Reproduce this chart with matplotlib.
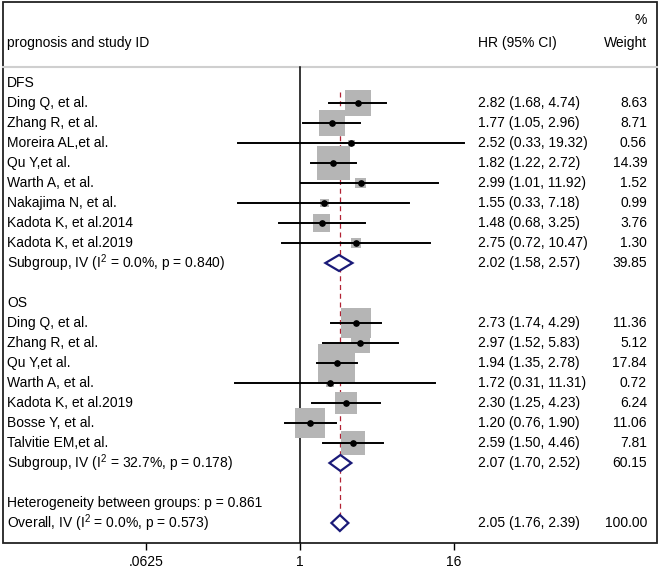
import matplotlib
matplotlib.use('Agg')
import matplotlib.pyplot as plt
from matplotlib.patches import Polygon, Rectangle
import numpy as np

plt.rcParams['font.family'] = ['Liberation Sans', 'DejaVu Sans']
plt.rcParams['mathtext.fontset'] = 'custom'
plt.rcParams['mathtext.rm'] = 'Liberation Sans'
plt.rcParams['mathtext.default'] = 'regular'

# DFS studies
dfs_studies = ['Ding Q, et al.', 'Zhang R, et al.', 'Moreira AL,et al.', 'Qu Y,et al.',
               'Warth A, et al.', 'Nakajima N, et al.', 'Kadota K, et al.2014',
               'Kadota K, et al.2019']
dfs_hr = [2.82, 1.77, 2.52, 1.82, 2.99, 1.55, 1.48, 2.75]
dfs_lo = [1.68, 1.05, 0.33, 1.22, 1.01, 0.33, 0.68, 0.72]
dfs_hi = [4.74, 2.96, 19.32, 2.72, 11.92, 7.18, 3.25, 10.47]
dfs_w = [8.63, 8.71, 0.56, 14.39, 1.52, 0.99, 3.76, 1.30]
dfs_sub = (2.02, 1.58, 2.57, 39.85)
dfs_sub_label = 'Subgroup, IV (I$^2$ = 0.0%, p = 0.840)'

# OS studies
os_studies = ['Ding Q, et al.', 'Zhang R, et al.', 'Qu Y,et al.', 'Warth A, et al.',
              'Kadota K, et al.2019', 'Bosse Y, et al.', 'Talvitie EM,et al.']
os_hr = [2.73, 2.97, 1.94, 1.72, 2.30, 1.20, 2.59]
os_lo = [1.74, 1.52, 1.35, 0.31, 1.25, 0.76, 1.50]
os_hi = [4.29, 5.83, 2.78, 11.31, 4.23, 1.90, 4.46]
os_w = [11.36, 5.12, 17.84, 0.72, 6.24, 11.06, 7.81]
os_sub = (2.07, 1.70, 2.52, 60.15)
os_sub_label = 'Subgroup, IV (I$^2$ = 32.7%, p = 0.178)'

het_label = 'Heterogeneity between groups: p = 0.861'
overall = (2.05, 1.76, 2.39, 100.00)
overall_label = 'Overall, IV (I$^2$ = 0.0%, p = 0.573)'

tick_vals = [0.0625, 1, 16]
tick_labels = ['.0625', '1', '16']

W, H = 660, 571
fig = plt.figure(figsize=(W / 100, H / 100), dpi=100)

# background axes in pixel coordinates
bg = fig.add_axes([0, 0, 1, 1])
bg.set_xlim(0, W)
bg.set_ylim(H, 0)
bg.axis('off')

# forest axes: x = 1 at 300 px, 38.5 px per doubling
x0_px, x1_px = 120, 480
ppu = 38.5
forest = fig.add_axes([x0_px / W, (H - 543) / H, (x1_px - x0_px) / W, 543 / H])
forest.set_xscale('log', base=2)
forest.set_xticks(tick_vals)
forest.set_xticklabels(tick_labels, fontsize=10)
forest.xaxis.set_minor_locator(matplotlib.ticker.NullLocator())
forest.set_xlim(2 ** ((x0_px - 300) / ppu), 2 ** ((x1_px - 300) / ppu))
forest.set_ylim(543, 0)
for s in forest.spines.values():
    s.set_visible(False)
forest.patch.set_alpha(0)
forest.set_yticks([])
forest.tick_params(axis='x', direction='out', length=5, width=1, pad=4)

fs = 10
txt_x, hr_x, w_x = 7, 478, 647
row0, dy = 83, 20

# frame and header line
bg.add_patch(Rectangle((3, 2), 654, 541, fill=False, edgecolor='#222222', lw=1.3))
bg.plot([3, 657], [67, 67], color='#cfcfcf', lw=1.5)
bg.text(txt_x, 43, 'prognosis and study ID', fontsize=fs, va='center')
bg.text(hr_x, 43, 'HR (95% CI)', fontsize=fs, va='center')
bg.text(w_x, 20, '%', fontsize=fs, va='center', ha='right')
bg.text(w_x, 43, 'Weight', fontsize=fs, va='center', ha='right')

# null line
forest.plot([1, 1], [67, 543], color='black', lw=1.1)
# overall dashed line
forest.plot([overall[0], overall[0]], [92, 515], color='#b22234', lw=0.9,
            linestyle=(0, (4, 3)))


def study_rows(names, hr, lo, hi, w, start):
    ys = [start + dy * i for i in range(len(names))]
    sides = [8.8 * np.sqrt(v) * 0.72 for v in w]
    forest.scatter(hr, ys, s=[sd ** 2 for sd in sides], marker='s',
                   color='#b5b5b5', linewidths=0, zorder=2)
    for y, h, l, u in zip(ys, hr, lo, hi):
        forest.plot([l, u], [y, y], color='black', lw=1.4, zorder=3)
    forest.plot(hr, ys, 'o', color='black', ms=3.8, zorder=4)
    for y, n, h, l, u, v in zip(ys, names, hr, lo, hi, w):
        bg.text(txt_x, y, n, fontsize=fs, va='center')
        bg.text(hr_x, y, f'{h:.2f} ({l:.2f}, {u:.2f})', fontsize=fs, va='center')
        bg.text(w_x, y, f'{v:.2f}', fontsize=fs, va='center', ha='right')
    return ys[-1] + dy


def diamond(vals, label, y):
    h, l, u, v = vals
    forest.add_patch(Polygon([(l, y), (h, y - 8), (u, y), (h, y + 8)], closed=True,
                             facecolor='white', edgecolor='#1a1a78', lw=1.6, zorder=5))
    bg.text(txt_x, y, label, fontsize=fs, va='center')
    bg.text(hr_x, y, f'{h:.2f} ({l:.2f}, {u:.2f})', fontsize=fs, va='center')
    bg.text(w_x, y, f'{v:.2f}', fontsize=fs, va='center', ha='right')


bg.text(txt_x, row0, 'DFS', fontsize=fs, va='center')
y = study_rows(dfs_studies, dfs_hr, dfs_lo, dfs_hi, dfs_w, row0 + dy)
diamond(dfs_sub, dfs_sub_label, y)
y += 2 * dy
bg.text(txt_x, y, 'OS', fontsize=fs, va='center')
y = study_rows(os_studies, os_hr, os_lo, os_hi, os_w, y + dy)
diamond(os_sub, os_sub_label, y)
y += 2 * dy
bg.text(txt_x, y, het_label, fontsize=fs, va='center')
y += dy
diamond(overall, overall_label, y)

fig.savefig('out.png', dpi=100)
